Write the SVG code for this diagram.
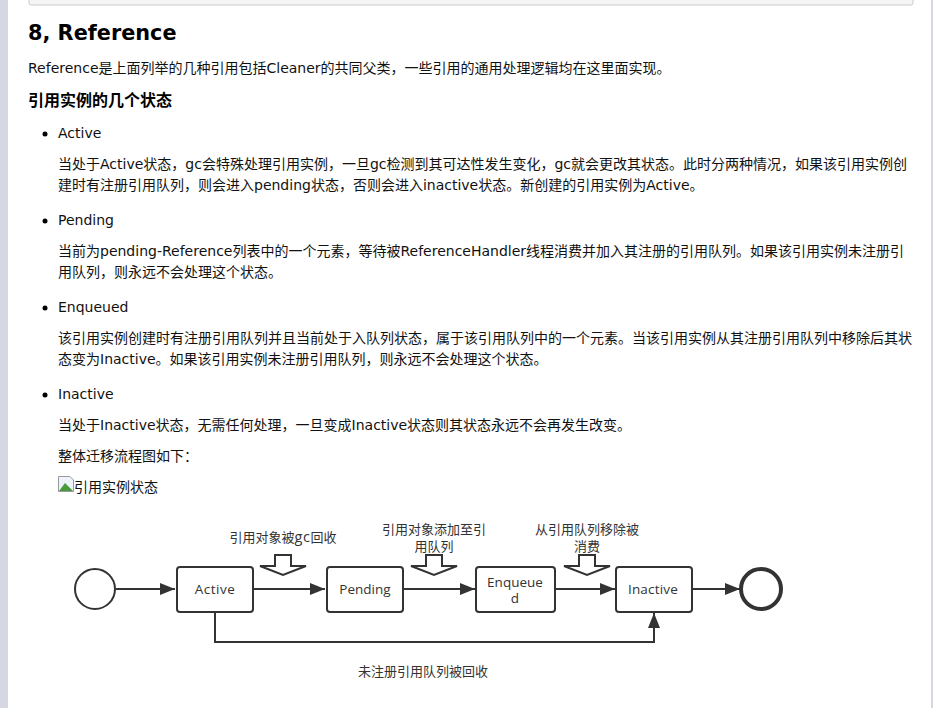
<svg xmlns="http://www.w3.org/2000/svg" width="933" height="708" viewBox="0 0 933 708">
<defs>
<marker id="arr" viewBox="0 0 15 12" refX="15" refY="6" markerWidth="15" markerHeight="12" markerUnits="userSpaceOnUse" orient="auto"><path d="M0 0L15 6L0 12Z" fill="#333"/></marker>
</defs>
<style>
text{font-family:"DejaVu Sans","Noto Sans CJK SC",sans-serif;font-size:14px;fill:#111}
.h1{font-size:20.800px;font-weight:700;fill:#000}
.h2{font-size:16px;font-weight:700;fill:#000}
.d{font-family:"Open Sans","Noto Sans CJK SC",sans-serif;font-size:13px;fill:#333;text-anchor:middle}
.l{font-size:13.500px}
.n{fill:#fff;stroke:#333;stroke-width:2}
.c{fill:none;stroke:#333;stroke-width:2}
.cn{fill:none;stroke:#333;stroke-width:2;marker-end:url(#arr)}
.g{fill:#fff;stroke:#333;stroke-width:2}
</style>
<rect width="933" height="708" fill="#fff"/>
<rect x="0" y="0" width="8" height="708" fill="#d5d8e2"/>
<rect x="931" y="0" width="2" height="708" fill="#d5d8e2"/>
<rect x="29" y="-6" width="884" height="11" rx="2" fill="#f5f5f5" stroke="#ccc"/>
<text class="h1" x="28" y="40">8, Reference</text>
<text x="28" y="73">Reference是上面列举的几种引用包括Cleaner的共同父类，一些引用的通用处理逻辑均在这里面实现。</text>
<text class="h2" x="28" y="106">引用实例的几个状态</text>
<g fill="#000"><circle cx="45" cy="134" r="2.500"/><circle cx="45" cy="221" r="2.500"/><circle cx="45" cy="308" r="2.500"/><circle cx="45" cy="395" r="2.500"/></g>
<text x="58" y="138">Active</text>
<text x="58" y="169">当处于Active状态，gc会特殊处理引用实例，一旦gc检测到其可达性发生变化，gc就会更改其状态。此时分两种情况，如果该引用实例创</text>
<text x="58" y="190">建时有注册引用队列，则会进入pending状态，否则会进入inactive状态。新创建的引用实例为Active。</text>
<text x="58" y="225">Pending</text>
<text x="58" y="256">当前为pending-Reference列表中的一个元素，等待被ReferenceHandler线程消费并加入其注册的引用队列。如果该引用实例未注册引</text>
<text x="58" y="277">用队列，则永远不会处理这个状态。</text>
<text x="58" y="312">Enqueued</text>
<text x="58" y="343">该引用实例创建时有注册引用队列并且当前处于入队列状态，属于该引用队列中的一个元素。当该引用实例从其注册引用队列中移除后其状</text>
<text x="58" y="364">态变为Inactive。如果该引用实例未注册引用队列，则永远不会处理这个状态。</text>
<text x="58" y="399">Inactive</text>
<text x="58" y="430">当处于Inactive状态，无需任何处理，一旦变成Inactive状态则其状态永远不会再发生改变。</text>
<text x="58" y="461">整体迁移流程图如下：</text>
<path d="M58.500 476.500H70L73.500 480V491.500H58.500Z" fill="#eef3fb" stroke="#999"/>
<path d="M59 491L65 483L73 491Z" fill="#4a9a3a"/>
<text x="74" y="492">引用实例状态</text>
<g id="connectors">
<path class="cn" d="M116 589H175"/>
<path class="cn" d="M253 589H325"/>
<path class="cn" d="M403 589H475"/>
<path class="cn" d="M555 589H615"/>
<path class="cn" d="M692 589H740"/>
<path class="cn" d="M215 612V642H654V613"/>
</g>
<g id="start"><circle class="c" cx="95" cy="589" r="20"/></g>
<g id="active"><rect class="n" x="177" y="567" width="76" height="45" rx="3"/><text class="d l" x="215" y="594" letter-spacing=".5">Active</text></g>
<g id="pending"><rect class="n" x="327" y="567" width="76" height="45" rx="3"/><text class="d l" x="365" y="594">Pending</text></g>
<g id="enqueued"><rect class="n" x="476" y="567" width="79" height="45" rx="3"/><text class="d l" y="587"><tspan x="515">Enqueue</tspan><tspan x="515" dy="16">d</tspan></text></g>
<g id="inactive"><rect class="n" x="616" y="567" width="76" height="45" rx="3"/><text class="d l" x="653" y="594" letter-spacing=".2">Inactive</text></g>
<g id="end"><circle cx="761" cy="589" r="20" fill="#fff" stroke="#333" stroke-width="4"/></g>
<g id="note1"><path class="g" d="M275 555H291V566H306L283 575L260 566H275Z"/><text class="d" x="283" y="542">引用对象被<tspan font-size="14.500" letter-spacing=".6">gc</tspan>回收</text></g>
<g id="note2"><path class="g" d="M426 555H442V566H457L434 575L411 566H426Z"/><text class="d" x="434" y="534">引用对象添加至引</text><text class="d" x="434" y="551">用队列</text></g>
<g id="note3"><path class="g" d="M579 555H595V566H610L587 575L564 566H579Z"/><text class="d" x="587" y="534">从引用队列移除被</text><text class="d" x="587" y="551">消费</text></g>
<g id="note4"><text class="d" x="423" y="676">未注册引用队列被回收</text></g>
</svg>
